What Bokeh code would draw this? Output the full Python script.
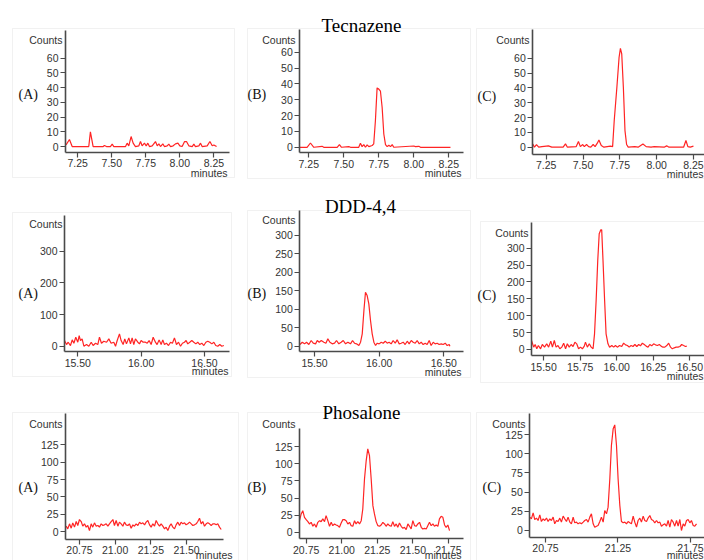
from bokeh.plotting import figure
from bokeh.layouts import row, column
from bokeh.models import (Label, FixedTicker, Range1d, NumeralTickFormatter,
                          LinearAxis, BoxAnnotation)
from bokeh.embed import file_html
from bokeh.resources import INLINE

# ---------------- data (minutes, counts) ----------------
compounds = ["Tecnazene", "DDD-4,4", "Phosalone"]
panel_letters = ["(A)", "(B)", "(C)"]

t_1a = [7.164, 7.189, 7.209, 7.331, 7.343, 7.363, 7.437, 7.446, 7.461, 7.490,
        7.503, 7.515, 7.601, 7.613, 7.625, 7.642, 7.657, 7.674, 7.699, 7.711,
        7.723, 7.740, 7.753, 7.765, 7.777, 7.797, 7.821, 7.834, 7.846, 7.858,
        7.875, 7.887, 7.907, 7.919, 7.932, 7.951, 7.968, 7.986, 8.000, 8.017,
        8.035, 8.049, 8.066, 8.091, 8.103, 8.115, 8.140, 8.152, 8.164, 8.201,
        8.221, 8.238, 8.250, 8.270]
c_1a = [1.1, 4.8, 0, 0, 10.0, 0, 0, 0.7, 0, 0,
        1.6, 0, 0, 2.3, 0.5, 6.8, 2.3, 0, 0.5, 3.4,
        0.5, 2.3, 0.5, 2.3, 0, 0.5, 3.4, 0.5, 1.8, 0,
        1.8, 0, 0.5, 1.6, 0, 0.5, 1.8, 2.3, 0.5, 0,
        3.4, 3.4, 0.5, 0, 1.6, 0, 0.5, 2.3, 0, 0.5,
        3.4, 0.5, 1.1, 0]

t_1b = [7.186, 7.238, 7.262, 7.286, 7.345, 7.357, 7.453, 7.469, 7.484, 7.536,
        7.548, 7.607, 7.619, 7.631, 7.643, 7.655, 7.667, 7.679, 7.703, 7.714,
        7.726, 7.738, 7.750, 7.762, 7.774, 7.786, 7.798, 7.810, 7.822, 7.834,
        7.846, 7.857, 8.000, 8.012, 8.036, 8.048, 8.262]
c_1b = [0, 0, 2.7, 0, 0.6, 0, 0, 1.7, 0, 0.4,
        0, 0, 2.5, 0.4, 1.7, 0, 1.5, 0.4, 1.1, 2.1,
        16.8, 37.5, 36.8, 35.4, 25.3, 8.4, 1.7, 0.4, 1.3, 0.4,
        1.7, 0, 0.8, 0.4, 0.6, 0, 0]

t_1c = [7.159, 7.170, 7.184, 7.199, 7.221, 7.265, 7.288, 7.365, 7.381, 7.394,
        7.454, 7.469, 7.482, 7.498, 7.509, 7.524, 7.538, 7.553, 7.569, 7.582,
        7.597, 7.608, 7.624, 7.642, 7.686, 7.701, 7.712, 7.730, 7.745, 7.754,
        7.763, 7.774, 7.785, 7.796, 7.807, 7.852, 7.874, 7.907, 7.929, 7.962,
        7.984, 8.051, 8.068, 8.084, 8.183, 8.199, 8.212, 8.228, 8.250]
c_1c = [2.2, 0, 1.8, 0, 0.4, 0.9, 0, 0, 2.2, 0,
        0.4, 3.8, 0.4, 1.8, 0.4, 1.8, 0.4, 0, 1.8, 0.4,
        2.7, 4.9, 1.1, 0, 0.7, 0.4, 18.0, 40.4, 60.7, 66.7,
        62.9, 40.4, 11.2, 1.8, 0, 0.4, 0, 2.2, 0.4, 0,
        0.4, 0, 0.9, 0, 0, 4.5, 0.4, 0, 0.7]

t_2a = [15.395, 15.411, 15.424, 15.442, 15.456, 15.469, 15.484, 15.500, 15.511, 15.521,
        15.534, 15.548, 15.569, 15.587, 15.606, 15.621, 15.640, 15.658, 15.671, 15.687,
        15.705, 15.727, 15.745, 15.763, 15.784, 15.798, 15.811, 15.829, 15.842, 15.858,
        15.871, 15.884, 15.903, 15.916, 15.929, 15.942, 15.955, 15.974, 15.987, 16.000,
        16.016, 16.034, 16.048, 16.063, 16.079, 16.095, 16.113, 16.126, 16.142, 16.158,
        16.171, 16.184, 16.200, 16.216, 16.232, 16.247, 16.263, 16.279, 16.295, 16.311,
        16.326, 16.342, 16.355, 16.368, 16.384, 16.400, 16.416, 16.432, 16.447, 16.463,
        16.479, 16.495, 16.511, 16.526, 16.542, 16.558, 16.574, 16.589, 16.605, 16.621,
        16.637, 16.653]
c_2a = [17.9, 5.3, 12.6, 2.1, 20.0, 9.5, 28.4, 12.6, 33.6, 17.9,
        23.1, 0, 5.3, 0, 12.6, 2.1, 9.5, 5.3, 28.4, 9.5,
        15.8, 12.6, 23.1, 9.5, 12.6, 0, 17.9, 38.9, 17.9, 5.3,
        23.1, 7.4, 26.3, 7.4, 26.3, 5.3, 23.1, 12.6, 7.4, 17.9,
        12.6, 12.6, 9.5, 17.9, 5.3, 28.4, 12.6, 5.3, 20.0, 5.3,
        20.0, 5.3, 9.5, 2.1, 12.6, 9.5, 26.3, 5.3, 12.6, 0,
        9.5, 12.6, 17.9, 7.4, 12.6, 17.9, 12.6, 7.4, 12.6, 5.3,
        9.5, 2.1, 12.6, 15.8, 12.6, 7.4, 12.6, 2.1, 0, 5.3,
        0, 2.1]

t_2b = [15.387, 15.405, 15.423, 15.438, 15.456, 15.474, 15.490, 15.508, 15.521, 15.536,
        15.552, 15.572, 15.588, 15.603, 15.619, 15.637, 15.655, 15.670, 15.688, 15.706,
        15.722, 15.740, 15.758, 15.778, 15.794, 15.809, 15.825, 15.843, 15.856, 15.869,
        15.882, 15.894, 15.907, 15.920, 15.933, 15.946, 15.959, 15.972, 15.985, 16.000,
        16.016, 16.031, 16.047, 16.062, 16.077, 16.093, 16.108, 16.124, 16.139, 16.155,
        16.170, 16.186, 16.201, 16.217, 16.232, 16.248, 16.263, 16.279, 16.294, 16.310,
        16.325, 16.340, 16.356, 16.371, 16.387, 16.402, 16.418, 16.433, 16.449, 16.464,
        16.480, 16.495, 16.511, 16.526, 16.542, 16.547]
c_2b = [4.5, 10.8, 6.3, 10.8, 4.5, 15.4, 8.1, 6.3, 15.4, 10.8,
        15.4, 10.8, 8.1, 19.9, 10.8, 6.3, 8.1, 15.4, 6.3, 10.8,
        15.4, 6.3, 10.8, 6.3, 15.4, 8.1, 6.3, 1.8, 10.8, 33.4,
        96.6, 146.3, 137.3, 114.7, 69.5, 33.4, 10.8, 1.8, 8.1, 6.3,
        10.8, 8.1, 13.5, 8.1, 10.8, 6.3, 15.4, 8.1, 17.2, 6.3,
        8.1, 10.8, 4.5, 13.5, 6.3, 15.4, 10.8, 8.1, 15.4, 6.3,
        10.8, 4.5, 8.1, 4.5, 15.4, 1.8, 10.8, 6.3, 8.1, 4.5,
        6.3, 4.5, 8.1, 1.8, 4.5, 0]

t_2c = [15.417, 15.432, 15.442, 15.453, 15.464, 15.479, 15.491, 15.506, 15.521, 15.534,
        15.549, 15.560, 15.573, 15.585, 15.598, 15.611, 15.624, 15.637, 15.650, 15.662,
        15.675, 15.688, 15.701, 15.714, 15.726, 15.739, 15.752, 15.765, 15.778, 15.786,
        15.799, 15.812, 15.825, 15.838, 15.848, 15.859, 15.870, 15.880, 15.891, 15.897,
        15.906, 15.917, 15.927, 15.940, 15.951, 15.966, 15.979, 15.991, 16.004, 16.019,
        16.034, 16.047, 16.060, 16.073, 16.085, 16.098, 16.111, 16.124, 16.137, 16.150,
        16.162, 16.175, 16.188, 16.201, 16.214, 16.226, 16.239, 16.252, 16.265, 16.278,
        16.291, 16.303, 16.316, 16.329, 16.342, 16.355, 16.368, 16.380, 16.393, 16.406,
        16.419, 16.432, 16.444, 16.457, 16.470, 16.479]
c_2c = [26.6, 6.9, 14.8, 2.0, 11.8, 2.0, 14.8, 6.9, 16.8, 6.9,
        24.7, 6.9, 26.6, 6.9, 11.8, 2.0, 6.9, 18.8, 2.0, 16.8,
        6.9, 14.8, 8.9, 21.7, 16.8, 2.0, 6.9, 2.0, 9.9, 21.7,
        6.9, 16.8, 6.9, 2.0, 46.4, 145.1, 263.5, 342.5, 354.3, 354.3,
        263.5, 145.1, 46.4, 16.8, 6.9, 11.8, 6.9, 11.8, 6.9, 11.8,
        8.9, 18.8, 13.8, 11.8, 6.9, 11.8, 8.9, 14.8, 8.9, 14.8,
        10.9, 18.8, 14.8, 9.9, 6.9, 14.8, 10.9, 16.8, 13.8, 11.8,
        14.8, 9.9, 6.9, 6.9, 11.8, 18.8, 6.9, 2.0, 4.9, 6.9,
        6.9, 8.9, 14.8, 11.8, 8.9, 9.9]

t_3a = [20.657, 20.668, 20.680, 20.692, 20.703, 20.715, 20.727, 20.738, 20.750, 20.762,
        20.773, 20.785, 20.797, 20.808, 20.820, 20.832, 20.843, 20.855, 20.867, 20.879,
        20.890, 20.902, 20.914, 20.925, 20.937, 20.949, 20.960, 20.972, 20.984, 20.995,
        21.007, 21.019, 21.030, 21.042, 21.054, 21.065, 21.077, 21.089, 21.100, 21.112,
        21.124, 21.135, 21.147, 21.159, 21.171, 21.182, 21.194, 21.206, 21.217, 21.229,
        21.241, 21.252, 21.264, 21.276, 21.287, 21.299, 21.311, 21.322, 21.334, 21.346,
        21.357, 21.369, 21.381, 21.392, 21.404, 21.416, 21.427, 21.439, 21.451, 21.462,
        21.474, 21.486, 21.497, 21.509, 21.521, 21.533, 21.544, 21.556, 21.568, 21.579,
        21.591, 21.603, 21.614, 21.626, 21.638, 21.649, 21.661, 21.673, 21.684, 21.696,
        21.708, 21.719, 21.731, 21.743]
c_3a = [7.7, 3.8, 11.1, 4.8, 12.5, 6.3, 14.4, 8.7, 17.3, 14.4,
        7.7, 11.1, 6.3, 8.7, 1.4, 11.1, 6.3, 12.5, 7.7, 8.7,
        6.3, 11.1, 8.7, 9.6, 11.1, 7.7, 11.1, 14.4, 17.3, 8.7,
        15.9, 7.7, 13.5, 11.1, 7.7, 13.5, 9.6, 8.7, 11.1, 4.8,
        9.6, 7.7, 11.1, 8.7, 13.5, 11.1, 12.5, 9.6, 13.5, 15.9,
        9.6, 6.3, 11.1, 7.7, 15.9, 11.1, 7.7, 11.1, 7.7, 3.8,
        6.3, 1.4, 7.7, 11.1, 6.3, 3.8, 9.6, 13.5, 8.7, 13.5,
        11.1, 12.5, 9.6, 11.1, 13.5, 11.1, 8.7, 9.6, 11.1, 14.4,
        19.2, 11.1, 14.4, 7.7, 11.1, 12.5, 11.1, 8.7, 11.1, 11.1,
        9.6, 11.1, 6.3, 2.9]

t_3b = [20.703, 20.715, 20.726, 20.738, 20.750, 20.762, 20.773, 20.785, 20.797, 20.808,
        20.820, 20.832, 20.844, 20.855, 20.867, 20.879, 20.890, 20.902, 20.914, 20.926,
        20.937, 20.949, 20.961, 20.972, 20.984, 20.996, 21.008, 21.019, 21.031, 21.043,
        21.055, 21.066, 21.078, 21.090, 21.101, 21.113, 21.125, 21.137, 21.148, 21.160,
        21.172, 21.183, 21.195, 21.207, 21.219, 21.230, 21.242, 21.254, 21.266, 21.277,
        21.289, 21.301, 21.312, 21.324, 21.336, 21.348, 21.359, 21.371, 21.383, 21.394,
        21.406, 21.418, 21.430, 21.441, 21.453, 21.465, 21.477, 21.488, 21.500, 21.512,
        21.523, 21.535, 21.547, 21.559, 21.570, 21.582, 21.594, 21.605, 21.617, 21.629,
        21.641, 21.652, 21.664, 21.676, 21.687, 21.699, 21.711, 21.723, 21.734, 21.746,
        21.758]
c_3b = [17.0, 26.8, 31.6, 21.9, 18.5, 15.6, 12.2, 14.6, 8.8, 12.2,
        7.3, 14.6, 17.0, 15.6, 19.5, 15.6, 24.3, 17.0, 8.8, 14.6,
        9.7, 12.2, 10.7, 9.7, 7.3, 13.6, 18.5, 18.5, 17.0, 12.2,
        14.6, 9.7, 8.8, 17.0, 12.2, 15.6, 12.2, 17.0, 34.0, 77.8,
        104.6, 121.6, 111.9, 77.8, 38.9, 26.8, 15.6, 9.7, 8.8, 10.7,
        14.6, 12.2, 8.8, 12.2, 9.7, 8.8, 15.6, 8.8, 12.2, 7.3,
        13.6, 8.8, 5.8, 7.3, 3.9, 12.2, 8.8, 4.9, 17.0, 9.7,
        8.8, 12.2, 14.6, 7.3, 4.9, 5.8, 4.9, 9.7, 14.6, 9.7,
        12.2, 8.8, 10.7, 8.8, 19.5, 23.3, 21.9, 10.7, 7.3, 10.7,
        2.4]

t_3c = [20.642, 20.653, 20.665, 20.676, 20.688, 20.699, 20.711, 20.722, 20.734, 20.745,
        20.757, 20.768, 20.780, 20.791, 20.803, 20.814, 20.826, 20.837, 20.849, 20.860,
        20.872, 20.883, 20.895, 20.906, 20.918, 20.929, 20.941, 20.952, 20.964, 20.975,
        20.987, 20.998, 21.010, 21.021, 21.033, 21.044, 21.056, 21.067, 21.079, 21.090,
        21.102, 21.113, 21.125, 21.136, 21.148, 21.159, 21.171, 21.182, 21.194, 21.205,
        21.217, 21.228, 21.240, 21.251, 21.263, 21.274, 21.286, 21.297, 21.309, 21.320,
        21.332, 21.343, 21.355, 21.366, 21.378, 21.389, 21.401, 21.412, 21.424, 21.435,
        21.447, 21.458, 21.470, 21.481, 21.493, 21.504, 21.516, 21.527, 21.539, 21.550,
        21.562, 21.573, 21.585, 21.596, 21.608, 21.619, 21.631, 21.642, 21.654, 21.665,
        21.677, 21.688, 21.700, 21.711, 21.723, 21.734, 21.746, 21.757, 21.769, 21.780,
        21.792]
c_3c = [17.4, 15.2, 23.0, 14.3, 16.1, 13.0, 20.4, 11.7, 15.2, 13.0,
        16.1, 11.7, 15.2, 13.0, 17.4, 8.7, 13.0, 11.7, 16.1, 10.9,
        18.7, 15.2, 11.7, 17.4, 10.9, 8.7, 17.4, 10.0, 10.9, 8.7,
        10.0, 8.7, 10.9, 13.0, 14.3, 10.9, 17.4, 21.7, 8.7, 4.3,
        5.6, 6.5, 11.7, 17.4, 10.9, 26.0, 21.7, 30.4, 67.3, 110.7,
        132.4, 137.6, 110.7, 67.3, 32.6, 11.7, 10.0, 10.9, 8.7, 11.7,
        10.0, 8.7, 18.7, 10.9, 4.3, 13.0, 16.1, 10.9, 18.7, 13.0,
        11.7, 16.1, 19.5, 14.3, 13.0, 10.0, 13.0, 10.0, 10.9, 5.6,
        7.4, 8.7, 5.6, 13.0, 4.3, 14.3, 10.9, 5.6, 13.0, 5.6,
        14.3, 0.0, 8.7, 5.6, 13.0, 14.3, 10.0, 13.0, 6.5, 5.6,
        8.7]

# tick values
xt_1 = [7.25, 7.50, 7.75, 8.00, 8.25]
yt_1 = [0, 10, 20, 30, 40, 50, 60]
xt_2ab = [15.50, 16.00, 16.50]
xt_2c = [15.50, 15.75, 16.00, 16.25, 16.50]
yt_2a = [0, 100, 200, 300]
yt_2bc = [0, 50, 100, 150, 200, 250, 300]
xt_3ab = [20.75, 21.00, 21.25, 21.50, 21.75]
xt_3a = [20.75, 21.00, 21.25, 21.50]
xt_3c = [20.75, 21.25, 21.75]
yt_3 = [0, 25, 50, 75, 100, 125]

# ---------------- layout geometry (pixels) ----------------
COL_PX = [0, 241, 473, 704]
ROW_PX = [0, 190, 393, 560]

SANS = "Liberation Sans"
SERIF = "Liberation Serif"
TXT = "#333333"
AXC = "#4a4a4a"
BOXC = "#d2d2d2"


def make_panel(col, rw, t, c, frame, xr, yr, xticks, yticks, letter_xy,
               counts_xy, minutes_xy, minutes_align, box, title_xy=None):
    # frame = pixel box of the chromatogram axes (left, right, top, bottom)
    axL, axR, axT, axB = frame
    colL, colR = COL_PX[col], COL_PX[col + 1]
    rowT, rowB = ROW_PX[rw], ROW_PX[rw + 1]
    W, H = colR - colL, rowB - rowT
    kx = (xr[1] - xr[0]) / (axR - axL)
    ky = (yr[1] - yr[0]) / (axB - axT)
    x_range = Range1d(xr[0] - kx * (axL - colL), xr[1] + kx * (colR - axR))
    y_range = Range1d(yr[0] - ky * (rowB - axB), yr[1] + ky * (axT - rowT))
    p = figure(width=W, height=H, x_range=x_range, y_range=y_range,
               min_border=0, toolbar_location=None, tools="",
               x_axis_location=None, y_axis_location=None,
               output_backend="svg")
    p.outline_line_color = None
    p.grid.visible = False
    p.background_fill_color = "white"
    p.border_fill_color = "white"

    # light frame of the original screenshot panel
    bl, br, bt, bb = box
    p.add_layout(BoxAnnotation(left=bl - colL, right=br - colL,
                               top=rowB - bt, bottom=rowB - bb,
                               left_units="screen", right_units="screen",
                               top_units="screen", bottom_units="screen",
                               fill_alpha=0, line_color=BOXC, line_width=1,
                               level="underlay"))

    xa = LinearAxis(fixed_location=yr[0], bounds=(xr[0], xr[1]),
                    ticker=FixedTicker(ticks=xticks),
                    formatter=NumeralTickFormatter(format="0.00"))
    ya = LinearAxis(fixed_location=xr[0], bounds=(yr[0], yr[1]),
                    ticker=FixedTicker(ticks=yticks))
    for ax in (xa, ya):
        ax.axis_line_color = AXC
        ax.axis_line_width = 1.6
        ax.major_tick_line_color = AXC
        ax.major_tick_line_width = 1.2
        ax.major_tick_in = 0
        ax.major_tick_out = 5
        ax.minor_tick_in = 0
        ax.minor_tick_out = 0
        ax.major_label_text_font = SANS
        ax.major_label_text_font_size = "10.5px"
        ax.major_label_text_color = TXT
        ax.major_label_standoff = 2
    p.add_layout(xa, "below")
    p.add_layout(ya, "left")

    p.line(t, c, line_color="#ff2424", line_width=1.2)

    def lab(text, px, py, align, baseline, font, size, color):
        p.add_layout(Label(x=px - colL, y=rowB - py, x_units="screen",
                           y_units="screen", text=text, text_align=align,
                           text_baseline=baseline, text_font=font,
                           text_font_size=size, text_color=color))

    lab(panel_letters[col], letter_xy[0], letter_xy[1], "left", "middle",
        SERIF, "14px", "#111111")
    lab("Counts", counts_xy[0], counts_xy[1], "right", "middle", SANS,
        "10.5px", TXT)
    lab("minutes", minutes_xy[0], minutes_xy[1], minutes_align, "middle", SANS,
        "10.5px", TXT)
    if title_xy is not None:
        lab(compounds[rw], title_xy[0], title_xy[1], "center", "alphabetic",
            SERIF, "19px", "#000000")
    return p


p1a = make_panel(0, 0, t_1a, c_1a, (65, 229, 30, 151.5), (7.160, 8.365), (-3.7, 78.8),
                 xt_1, yt_1, (18, 94), (62, 39), (227, 172), "right",
                 (12, 234, 28, 177))
p1b = make_panel(1, 0, t_1b, c_1b, (299.3, 462.7, 29.3, 152), (7.186, 8.353), (-3.3, 74.2),
                 xt_1, yt_1, (247, 94), (295, 39), (461, 172), "right",
                 (247, 470, 28, 178), title_xy=(361, 25))
p1c = make_panel(2, 0, t_1c, c_1c, (532.3, 704, 29.3, 153.5), (7.159, 8.325), (-4.6, 79.2),
                 xt_1, yt_1, (477, 96), (529, 39), (703, 173), "right",
                 (476, 712, 28, 178))

p2a = make_panel(0, 1, t_2a, c_2a, (64, 229.3, 215, 351), (15.395, 16.70), (-16.7, 412.7),
                 xt_2ab, yt_2a, (18, 292.5), (62, 223), (228, 370.5), "right",
                 (12, 231, 212, 376))
p2b = make_panel(1, 1, t_2b, c_2b, (299.3, 462.7, 210, 351), (15.386, 16.65), (-14.4, 367.7),
                 xt_2ab, yt_2bc, (247, 292.5), (295, 219), (461, 371.5), "right",
                 (247, 470, 210, 377), title_xy=(360, 206))
p2c = make_panel(2, 1, t_2c, c_2c, (531, 704, 221.7, 355), (15.417, 16.60), (-17.8, 376.9),
                 xt_2c, yt_2bc, (477, 294.5), (528, 232.5), (703, 375), "right",
                 (480, 712, 221, 382))

p3a = make_panel(0, 2, t_3a, c_3a, (65, 222.7, 413.3, 538.5), (20.652, 21.757), (-10.8, 169.8),
                 xt_3a, yt_3, (18, 486.5), (62, 423), (232, 554), "right",
                 (12, 238, 412, 566))
p3b = make_panel(1, 2, t_3b, c_3b, (299, 462.7, 428.3, 538), (20.703, 21.854), (-9.0, 150.9),
                 xt_3ab, yt_3, (247, 486.5), (295, 423), (461, 554), "right",
                 (247, 470, 412, 566), title_xy=(361, 412))
p3c = make_panel(2, 2, t_3c, c_3c, (529.3, 704, 413.3, 536.5), (20.642, 21.847), (-8.5, 152),
                 xt_3c, yt_3, (482, 487), (525, 423), (703, 554), "right",
                 (476, 712, 412, 566))

layout = column(row(p1a, p1b, p1c), row(p2a, p2b, p2c), row(p3a, p3b, p3c))

open("out.html", "w").write(file_html(layout, INLINE))
